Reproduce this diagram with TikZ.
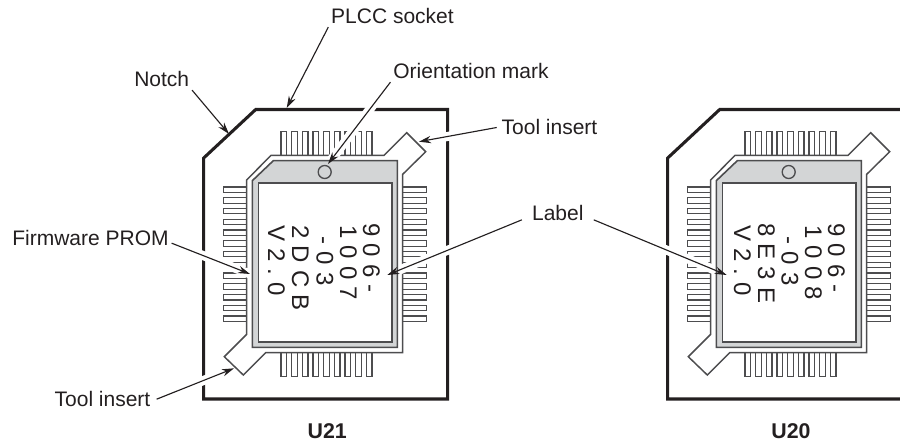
\documentclass[tikz,border=0pt]{standalone}
\usepackage{fontspec}
\setmainfont{Liberation Sans}
\usetikzlibrary{arrows.meta}

\definecolor{inkdark}{HTML}{231F20}
\definecolor{inkgrey}{HTML}{4D4D4F}
\definecolor{chipgrey}{HTML}{D3D5D6}

\tikzset{
    lbl/.style={font=\fontsize{15.75pt}{18pt}\selectfont, text=inkdark, inner sep=2pt, anchor=base},
    boldlbl/.style={lbl, font=\fontsize{16pt}{18pt}\selectfont\bfseries},
    prom/.style={font=\fontsize{18pt}{20pt}\selectfont\addfontfeature{LetterSpace=30}, text=inkdark,
        inner sep=0pt, rotate=-90, anchor=base west},
    socket/.style={draw=inkdark, line width=2.3pt, line join=miter},
    pin/.style={draw=inkgrey, fill=white, line width=0.9pt},
    carrier/.style={draw=inkgrey, fill=white, line width=1.1pt, line join=miter},
    chip/.style={draw=inkgrey, fill=chipgrey, line width=1.2pt},
    window/.style={draw=inkgrey, fill=white, line width=1.2pt},
    leader/.style={draw=inkdark, line width=0.85pt, -{Stealth[length=9pt,width=5.5pt]}},
    halo/.style={draw=white, line width=6.8pt, shorten <=8pt},
}

% socket, pins and carrier of one device
\newcommand{\plccbase}[1]{
    \begin{scope}[shift={(#1,0)}]
        \draw[socket] (447.7,399) -- (203.7,399) -- (203.7,158) -- (255.7,109.5) -- (447.7,109.5) -- cycle;
        \foreach \i in {0,...,8} {
            \draw[pin] (281+10.67*\i,131.7) rectangle (286.7+10.67*\i,156);
            \draw[pin] (281+10.67*\i,352) rectangle (286.7+10.67*\i,376.3);
        }
        \foreach \i in {0,...,12} {
            \draw[pin] (223.3,187+10.75*\i) rectangle (247,192.4+10.75*\i);
            \draw[pin] (402,187+10.75*\i) rectangle (426.3,192.4+10.75*\i);
        }
        \draw[carrier] (271,155.3) -- (384,155.3) -- (406.7,132.7) -- (425.7,151.7) -- (402.7,174.3)
            -- (402.7,352.7) -- (265.7,352.7) -- (243.3,375) -- (224.3,356.7) -- (246.7,334.3)
            -- (246.7,180) -- cycle;
    \end{scope}
}

% chip body with its mark and window
\newcommand{\plccchip}[1]{
    \begin{scope}[shift={(#1,0)}]
        \draw[chip] (273.3,160.7) -- (397.3,160.7) -- (397.3,347.3) -- (252.3,347.3) -- (252.3,180.7) -- cycle;
        \draw[window] (258.3,183.3) rectangle (391.7,341.7);
        \draw[inkgrey, line width=1pt] (324.7,172) circle (6.5);
    \end{scope}
}

\begin{document}
\begin{tikzpicture}[x=0.75pt, y=-0.75pt]
    \path[use as bounding box, clip] (0,0) rectangle (900,442);

    \node[lbl] (lblSocket) at (392.5,24) {PLCC socket};
    \node[lbl] (lblNotch) at (161.7,87) {Notch};
    \node[lbl] (lblMark) at (471,79) {Orientation mark};
    \node[lbl, inner xsep=3.5pt] (lblToolTop) at (549.5,135) {Tool insert};
    \node[lbl] (lblFirmware) at (90.5,245) {Firmware PROM};
    \node[lbl, inner xsep=7.5pt] (lblLabel) at (557.8,221) {Label};
    \node[lbl, inner xsep=4.5pt] (lblToolBottom) at (102.5,406.7) {Tool insert};
    \node[boldlbl] (lblUa) at (327.3,438) {U21};
    \node[boldlbl] (lblUb) at (791,438) {U20};

    \coordinate (TS) at (286.7,108);
    \coordinate (TN) at (229,134);
    \coordinate (TM) at (328,164);
    \coordinate (TT) at (419,141.7);
    \coordinate (TF) at (250,274);
    \coordinate (TA) at (387.3,275);
    \coordinate (TB) at (726.7,275);
    \coordinate (TU) at (234,368.3);

    \plccbase{0}
    \plccbase{464}

    \draw[halo] (lblMark.south west) -- (TM);
    \draw[halo, shorten >=7pt] (lblToolTop.west) -- (TT);
    \draw[halo] (lblFirmware.-4) -- (TF);
    \draw[halo] (lblLabel.190) -- (TA);
    \draw[halo] (lblLabel.-10) -- (TB);
    \draw[halo, shorten >=7pt] (lblToolBottom.east) -- (TU);

    \plccchip{0}
    \plccchip{464}

    % U21
    \node[prom] (aa) at (363,223) {906-};
    \node[prom] (ab) at (340,225) {1007};
    \node[prom] (ac) at (316.7,236.5) {-03};
    \node[prom] (ad) at (292,225) {2DCB};
    \node[prom] (ae) at (268,225) {V2.0};

    % U20
    \node[prom] (ba) at (828,223) {906-};
    \node[prom] (bb) at (805,225) {1008};
    \node[prom] (bc) at (781.7,236.5) {-03};
    \node[prom] (bd) at (758,223) {8E3E};
    \node[prom] (be) at (734,225) {V2.0};

    \draw[leader] (lblSocket.south west) -- (TS);
    \draw[leader] (lblNotch.south east) -- (TN);
    \draw[leader] (lblMark.south west) -- (TM);
    \draw[leader] (lblToolTop.west) -- (TT);
    \draw[leader] (lblFirmware.-4) -- (TF);
    \draw[leader] (lblLabel.190) -- (TA);
    \draw[leader] (lblLabel.-10) -- (TB);
    \draw[leader] (lblToolBottom.east) -- (TU);

\end{tikzpicture}
\end{document}
